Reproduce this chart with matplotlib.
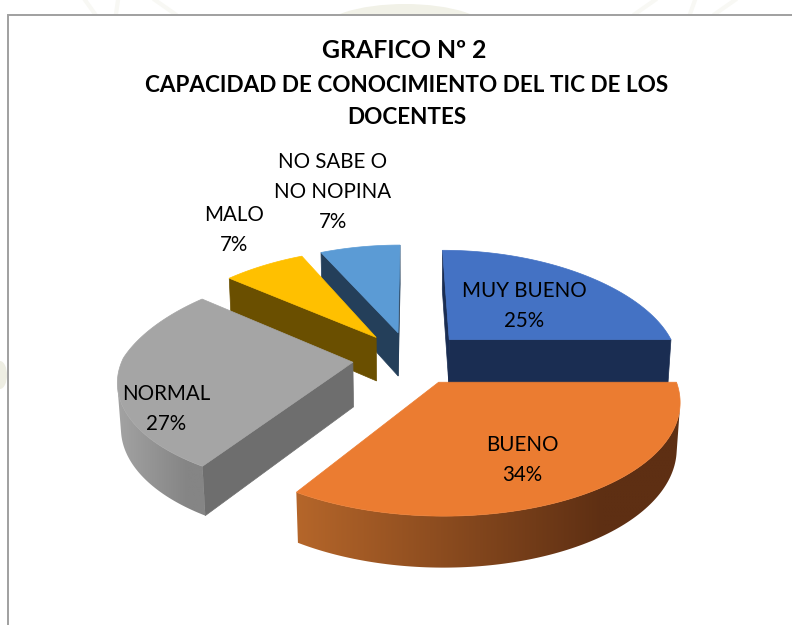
import matplotlib
matplotlib.use('Agg')
import matplotlib.pyplot as plt
from matplotlib.colors import to_rgb
from matplotlib.patches import Ellipse, Polygon, Rectangle
import numpy as np

plt.rcParams['font.family'] = ['Lato', 'DejaVu Sans']

# What we want to plot
categories = ['MUY BUENO', 'BUENO', 'NORMAL', 'MALO', 'NO SABE O\nNO NOPINA']
percent = [25, 34, 27, 7, 7]
title_lines = ['GRAFICO Nº 2', 'CAPACIDAD DE CONOCIMIENTO DEL TIC DE LOS', 'DOCENTES']

# Styles
top_colors = ['#4472c4', '#eb7c31', '#a5a5a5', '#ffc000', '#5b9bd5']
wall_colors = ['#1a2d52', '#5e2f13', '#6e6e6e', '#6a4f00', '#243f5a']
rim_left = ['#1a2d52', '#b5662a', '#a3a3a3', '#6a4f00', '#243f5a']
rim_right = ['#1a2d52', '#5e2f13', '#858585', '#6a4f00', '#243f5a']
label_xy = [(524, 306), (522, 460), (166, 409), (234, 230), (333, 192)]

# Projection of the exploded 3D pie
cx, cy = 410, 358
rx, ry = 230, 107
height = 45
explode = 0.25
kx_back, kx_front = 0.21, 0.15
ky = 0.1436
m = 0.012


def project(X, Y, Z):
    kx = kx_back if Y > 0 else kx_front
    return (cx + rx * X / (1 + kx * Y + m * Z),
            cy + (height * Z - ry * Y) / (1 + ky * Y + m * Z))


def area(pts):
    x, y = np.array(pts).T
    return 0.5 * np.sum(x * np.roll(y, -1) - np.roll(x, -1) * y)


f = plt.figure(figsize=(7.92, 6.25), dpi=100)
ax = f.add_axes([0, 0, 1, 1])
ax.axis('off')

# faint watermark of the page behind the chart
ax.add_patch(Ellipse((405, 32), 170, 56, fc='#f1f1e7', ec='none', zorder=1))
ax.add_patch(Ellipse((0, 375), 14, 28, fc='#eeeee3', ec='none', zorder=1))
for x0, x1 in [(85, 95), (118, 116), (155, 175), (655, 635), (695, 690), (735, 715)]:
    ax.plot([x0, x1], [0, 14], color='#f8f8f4', lw=3, zorder=1)

ax.add_patch(Rectangle((8, 15), 800, 700, fc='white', ec='#a0a0a0', lw=1.4, zorder=2))

edges = np.radians(np.concatenate([[0], np.cumsum(percent)]) * 3.6)
mids = (edges[:-1] + edges[1:]) / 2

z = 3
for i in np.argsort(-np.cos(mids)):
    a0, a1 = edges[i], edges[i + 1]
    ox, oy = explode * np.sin(mids[i]), explode * np.cos(mids[i])
    th = np.linspace(a0, a1, 120)
    X, Y = ox + np.sin(th), oy + np.cos(th)
    top = [project(a, b, 0) for a, b in zip(X, Y)]
    bot = [project(a, b, 1) for a, b in zip(X, Y)]
    apex, apexb = project(ox, oy, 0), project(ox, oy, 1)

    # radial walls
    for j, sign in [(0, -1), (-1, 1)]:
        wall = [apex, top[j], bot[j], apexb]
        if area(wall) * sign > 0:
            ax.add_patch(Polygon(wall, fc=wall_colors[i], ec=wall_colors[i], lw=0.5, zorder=z))

    # outer rim, shaded from left to right
    keep = [j for j in range(len(th) - 1)
            if area([top[j], top[j + 1], bot[j + 1], bot[j]]) < 0]
    if keep:
        idx = keep + [keep[-1] + 1]
        rim = [top[j] for j in idx] + [bot[j] for j in idx[::-1]]
        rim_x = np.array(rim)[:, 0]
        rim_y = np.array(rim)[:, 1]
        t = np.clip(np.linspace(0, 1, 256) / 0.8, 0, 1)[None, :, None]
        c0, c1 = np.array(to_rgb(rim_left[i])), np.array(to_rgb(rim_right[i]))
        im = ax.imshow(c0 + (c1 - c0) * t, aspect='auto', interpolation='bilinear',
                       extent=(rim_x.min(), rim_x.max(), rim_y.max(), rim_y.min()), zorder=z)
        im.set_clip_path(Polygon(rim, transform=ax.transData))

    ax.add_patch(Polygon([apex] + top, fc=top_colors[i], ec=top_colors[i], lw=0.5, zorder=z + 1))
    z += 2

for name, p, (x, y) in zip(categories, percent, label_xy):
    ax.text(x, y, f'{name}\n{p}%', ha='center', va='center', fontsize=14.8,
            color='black', linespacing=1.6, zorder=20)

ax.text(404, 50, title_lines[0], ha='center', va='center', fontsize=17.8, weight='bold', zorder=20)
ax.text(407, 86, title_lines[1], ha='center', va='center', fontsize=16.2, weight='bold', zorder=20)
ax.text(407, 117, title_lines[2], ha='center', va='center', fontsize=16.2, weight='bold', zorder=20)

ax.set_xlim(0, 792)
ax.set_ylim(625, 0)

plt.savefig('out.png', dpi=100)
